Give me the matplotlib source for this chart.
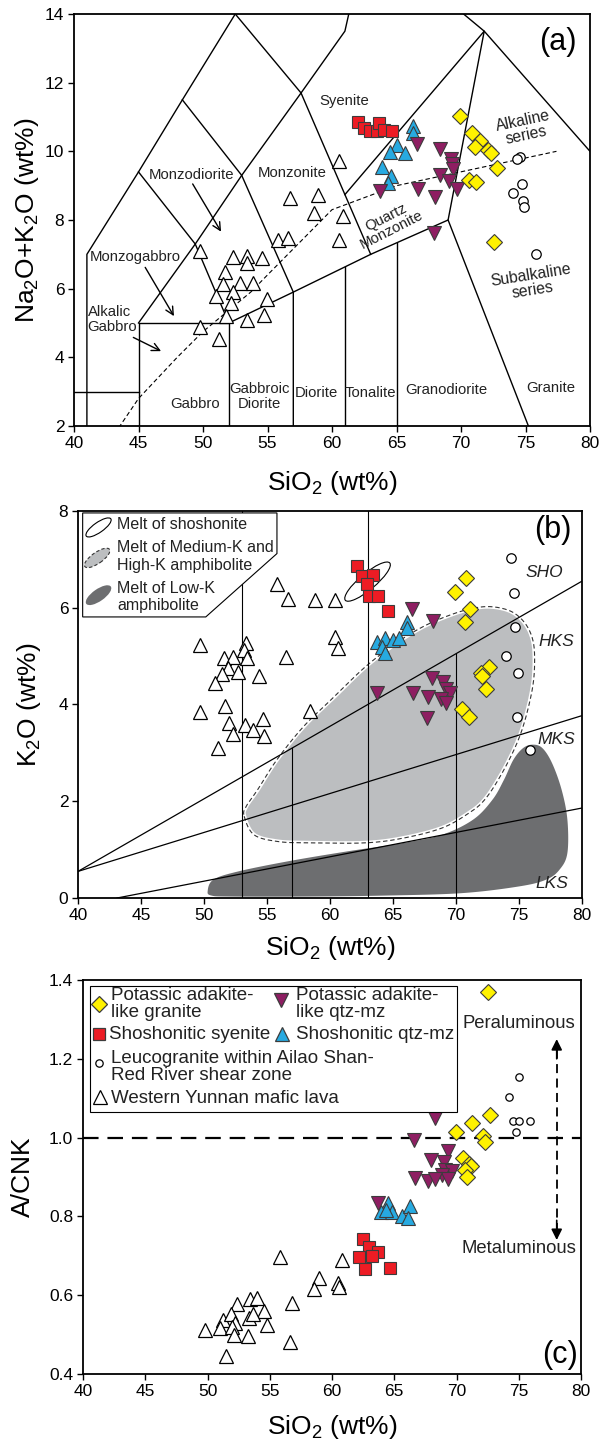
import numpy as np
import matplotlib
matplotlib.use("Agg")
import matplotlib.pyplot as plt
from matplotlib.patches import Polygon, Rectangle, Ellipse
from matplotlib.transforms import ScaledTranslation

plt.rcParams['font.family'] = ['Liberation Sans', 'DejaVu Sans']
plt.rcParams['mathtext.default'] = 'regular'

# ---------------- data ----------------
# Panel (a): TAS
a_tri_x = [49.77, 52.35, 53.43, 53.39, 54.55, 51.71, 52.87, 53.9, 51.53, 51.0, 52.35, 52.15, 54.94,
           51.78, 53.39, 54.73, 49.77, 51.26, 55.84, 56.61, 60.57, 56.74, 58.94, 58.6, 60.83, 60.57]
a_tri_y = [7.09, 6.92, 6.94, 6.76, 6.89, 6.50, 6.16, 6.16, 6.14, 5.79, 5.89, 5.58, 5.70,
           5.19, 5.10, 5.24, 4.88, 4.53, 7.43, 7.48, 9.71, 8.64, 8.74, 8.20, 8.12, 7.43]
a_sq_x = [62.04, 62.48, 62.95, 63.51, 63.67, 64.05, 64.63]
a_sq_y = [10.84, 10.68, 10.58, 10.58, 10.83, 10.61, 10.58]
a_blue_x = [66.25, 66.25, 65.06, 65.66, 64.5, 63.85, 64.55, 64.37]
a_blue_y = [10.75, 10.53, 10.19, 9.95, 9.97, 9.53, 9.27, 9.08]
a_pur_x = [66.6, 68.4, 69.2, 69.3, 69.4, 68.4, 69.1, 69.7, 66.7, 68.0, 63.7, 67.9]
a_pur_y = [10.2, 10.07, 9.77, 9.63, 9.5, 9.3, 9.15, 8.9, 8.9, 8.66, 8.85, 7.62]
a_yel_x = [69.95, 70.85, 71.5, 71.05, 72.1, 72.3, 72.8, 70.65, 71.2, 72.55]
a_yel_y = [11.02, 10.53, 10.29, 10.13, 10.05, 9.95, 9.52, 9.17, 9.12, 7.35]
a_cir_x = [74.6, 74.35, 74.0, 74.7, 74.8, 74.9, 75.85]
a_cir_y = [9.83, 9.78, 8.8, 9.06, 8.56, 8.38, 7.01]

# Panel (b): K2O vs SiO2
b_tri_x = [55.77, 56.69, 58.81, 60.4, 60.4, 60.66, 58.41, 49.68, 51.59, 52.28, 53.33, 53.17, 53.44, 51.93,
           51.4, 52.72, 50.87, 54.39, 56.51, 49.68, 51.67, 52.01, 53.25, 52.28, 53.86, 54.66, 54.76, 51.14]
b_tri_y = [6.50, 6.19, 6.16, 6.16, 5.39, 5.16, 3.87, 5.23, 4.97, 4.99, 5.27, 5.12, 4.97, 4.75,
           4.63, 4.68, 4.44, 4.59, 4.99, 3.85, 3.97, 3.62, 3.57, 3.40, 3.47, 3.71, 3.35, 3.11]
b_sq_x = [62.16, 62.5, 63.43, 62.9, 63.08, 63.82, 64.62]
b_sq_y = [6.86, 6.66, 6.67, 6.49, 6.24, 6.25, 5.93]
b_blue_x = [66.09, 66.09, 63.71, 64.37, 64.97, 65.5, 64.1, 64.37]
b_blue_y = [5.71, 5.59, 5.30, 5.37, 5.33, 5.37, 5.18, 5.06]
b_pur_x = [66.5, 68.2, 63.7, 66.6, 67.8, 68.1, 69.0, 69.2, 69.5, 68.8, 69.2, 67.7]
b_pur_y = [5.98, 5.72, 4.24, 4.24, 4.16, 4.55, 4.47, 4.33, 4.23, 4.12, 4.04, 3.72]
b_yel_x = [70.8, 69.9, 71.1, 70.7, 72.6, 72.0, 72.1, 72.35, 70.5, 71.0]
b_yel_y = [6.61, 6.33, 5.97, 5.71, 4.78, 4.66, 4.58, 4.33, 3.91, 3.75]
b_cir_x = [74.4, 74.6, 74.65, 74.0, 74.9, 74.85, 75.85]
b_cir_y = [7.03, 6.3, 5.6, 5.01, 4.66, 3.75, 3.05]

# Panel (c): A/CNK vs SiO2
c_tri_x = [55.82, 60.78, 58.98, 58.55, 60.51, 60.59, 56.76, 52.38, 53.4, 53.99, 54.53, 53.35, 53.67, 51.26,
           51.85, 52.2, 50.99, 49.78, 54.75, 51.93, 53.27, 52.12, 56.62, 51.47]
c_tri_y = [0.697, 0.690, 0.643, 0.616, 0.632, 0.622, 0.580, 0.578, 0.590, 0.593, 0.561, 0.542, 0.553, 0.538,
           0.553, 0.529, 0.517, 0.511, 0.525, 0.519, 0.497, 0.500, 0.480, 0.445]
c_sq_x = [62.48, 63.0, 63.71, 62.17, 63.19, 62.63, 64.64]
c_sq_y = [0.742, 0.723, 0.710, 0.698, 0.700, 0.666, 0.670]
c_blue_x = [64.53, 63.92, 64.8, 65.61, 66.28, 66.14, 64.34]
c_blue_y = [0.835, 0.810, 0.810, 0.801, 0.827, 0.796, 0.817]
c_pur_x = [68.29, 66.6, 69.28, 67.94, 68.96, 69.09, 69.63, 68.83, 69.28, 66.68, 67.75, 68.29, 63.73]
c_pur_y = [1.049, 0.994, 0.965, 0.944, 0.937, 0.918, 0.914, 0.906, 0.895, 0.897, 0.891, 0.894, 0.835]
c_yel_x = [72.5, 72.71, 71.24, 69.98, 72.12, 72.31, 70.51, 70.97, 71.16, 70.7, 70.84]
c_yel_y = [1.370, 1.058, 1.037, 1.013, 1.003, 0.990, 0.948, 0.933, 0.927, 0.918, 0.900]
c_cir_x = [74.18, 75.03, 74.54, 74.99, 75.87, 74.75]
c_cir_y = [1.102, 1.154, 1.043, 1.043, 1.041, 1.015]

# TAS (plutonic) field boundaries
tas_lines = [
    [(41, 2), (41, 7), (45, 9.4), (48.4, 11.5), (52.5, 14)],
    [(40, 3), (45, 3)],
    [(45, 2), (45, 5), (52, 5), (52, 2)],
    [(45, 5), (49.4, 7.3), (53, 9.3), (57.6, 11.7), (61, 13.5), (61.3, 14)],
    [(45, 9.4), (49.4, 7.3), (52, 5)],
    [(48.4, 11.5), (53, 9.3), (57, 5.9), (57, 2)],
    [(52.5, 14), (57.6, 11.7), (63, 7)],
    [(52, 5), (57, 5.9), (63, 7), (69, 8), (75.225, 2)],
    [(61, 2), (61, 6.63)],
    [(65, 2), (65, 7.33)],
    [(61, 8.74), (71.8, 13.5), (80, 10)],
    [(69, 8), (71.8, 13.5), (70.2, 14)],
]
ib_x = [39.2, 40, 43.2, 45, 48, 50, 53.7, 55, 60, 65, 77.4]
ib_y = [0, 0.4, 1.8, 2.8, 4.0, 4.75, 5.9, 6.4, 8.3, 9.0, 10.0]

# K2O-SiO2 series boundaries
sho_line = [(40, 0.55), (80, 6.55)]
hks_line = [(40, 0.55), (80, 3.77)]
lks_line = [(43.1, 0.0), (80, 1.86)]
b_vlines = [53, 57, 63, 70]

amph_mhk_x = [53.19, 53.95, 55.79, 58.23, 62.81, 65.86, 68.92, 71.05, 72.27, 73.5, 74.72, 75.48, 76.09,
              76.24, 76.09, 75.48, 74.41, 72.89, 71.36, 69.53, 67.39, 65.25, 62.81, 60.37, 57.92,
              55.79, 54.26, 53.34]
amph_mhk_y = [1.69, 1.31, 1.17, 1.14, 1.14, 1.24, 1.45, 1.76, 2.03, 2.51, 3.13, 3.68, 4.37,
              4.92, 5.34, 5.68, 5.92, 6.02, 5.99, 5.85, 5.61, 5.27, 4.78, 4.17, 3.55,
              2.86, 2.24, 1.89]
amph_lk_x = [50.29, 50.75, 52.73, 56.7, 61.28, 65.86, 68.92, 71.36, 72.89, 73.8, 74.56, 75.33, 76.09,
             76.85, 77.62, 78.38, 78.84, 78.84, 78.23, 77.16, 75.02, 70.44, 64.34, 58.23, 52.12, 50.6]
amph_lk_y = [0.14, 0.38, 0.55, 0.76, 0.96, 1.14, 1.31, 1.62, 2.03, 2.44, 2.86, 3.10, 3.17,
             3.10, 2.79, 2.24, 1.62, 0.93, 0.59, 0.38, 0.24, 0.10, 0.05, 0.03, 0.03, 0.05]

# ---------------- styles ----------------
C_YEL, C_RED, C_BLUE, C_PUR = '#FFF200', '#ED1C24', '#27AAE1', '#8E1E62'
EDGE = '#3c3c3c'
MS_SQ, MS_TRI, MS_D, MS_O = 9, 10, 8.6, 6.8


def catmull_closed(xs, ys, n=16):
    P = np.column_stack([xs, ys])
    N = len(P)
    out = []
    for i in range(N):
        p0, p1, p2, p3 = P[i - 1], P[i], P[(i + 1) % N], P[(i + 2) % N]
        for t in np.linspace(0, 1, n, endpoint=False):
            t2, t3 = t * t, t * t * t
            out.append(0.5 * ((2 * p1) + (-p0 + p2) * t + (2 * p0 - 5 * p1 + 4 * p2 - p3) * t2
                              + (-p0 + 3 * p1 - 3 * p2 + p3) * t3))
    out.append(out[0])
    return np.array(out)


def style_axes(ax, xlim, ylim, yticks):
    ax.set_xlim(*xlim)
    ax.set_ylim(*ylim)
    ax.set_xticks(np.arange(40, 81, 5))
    ax.set_yticks(yticks)
    ax.tick_params(direction='out', length=4, width=1.0, labelsize=12.5, pad=3)
    for s in ax.spines.values():
        s.set_linewidth(1.3)


def scatter_groups(ax, groups, cir_ms=MS_O):
    tri, sq, blue, pur, yel, cir = groups
    ax.plot(*tri, ls='none', marker='^', ms=MS_TRI, mfc='white', mec='black', mew=0.9, zorder=4)
    ax.plot(*cir, ls='none', marker='o', ms=cir_ms, mfc='white', mec='black', mew=0.9, zorder=4)
    ax.plot(*sq, ls='none', marker='s', ms=MS_SQ, mfc=C_RED, mec=EDGE, mew=0.8, zorder=4)
    ax.plot(*blue, ls='none', marker='^', ms=MS_TRI, mfc=C_BLUE, mec=EDGE, mew=0.8, zorder=4)
    ax.plot(*pur, ls='none', marker='v', ms=MS_TRI, mfc=C_PUR, mec=EDGE, mew=0.8, zorder=4)
    ax.plot(*yel, ls='none', marker='D', ms=MS_D, mfc=C_YEL, mec=EDGE, mew=0.8, zorder=4)


fig = plt.figure(figsize=(6.01, 14.42), dpi=100)
W, H = 601, 1442
ax_a = fig.add_axes([74 / W, 1 - 426 / H, 516 / W, 412 / H])
ax_b = fig.add_axes([78 / W, 1 - 898 / H, 504 / W, 387 / H])
ax_c = fig.add_axes([83 / W, 1 - 1374 / H, 498 / W, 394 / H])

# ---------------- panel (a) ----------------
ax = ax_a
style_axes(ax, (40, 80), (2, 14), np.arange(2, 15, 2))
for seg in tas_lines:
    xs, ys = zip(*seg)
    ax.plot(xs, ys, color='black', lw=1.0, zorder=2, clip_on=True)
ax.plot(ib_x, ib_y, color='black', lw=0.8, ls=(0, (4, 2.5)), zorder=2)

fs_f = 10.7
for txt, x, y in [('Syenite', 60.94, 11.48), ('Monzonite', 56.92, 9.36), ('Monzodiorite', 49.1, 9.3),
                  ('Monzogabbro', 44.75, 6.93), ('Gabbro', 49.38, 2.64), ('Diorite', 58.76, 2.95),
                  ('Tonalite', 63.0, 2.95), ('Granodiorite', 68.89, 3.05), ('Granite', 76.93, 3.12)]:
    ax.text(x, y, txt, fontsize=fs_f, ha='center', va='center', color='#222222', zorder=3)
ax.text(41.05, 5.1, 'Alkalic\nGabbro', fontsize=fs_f, ha='left', va='center', color='#222222',
        linespacing=1.05)
ax.text(54.4, 2.86, 'Gabbroic\nDiorite', fontsize=fs_f, ha='center', va='center', color='#222222',
        linespacing=1.05)
ax.text(64.4, 7.9, 'Quartz\nMonzonite', fontsize=fs_f, ha='center', va='center', color='#222222',
        rotation=27, linespacing=1.0)
ax.text(74.9, 10.68, 'Alkaline\nseries', fontsize=11.3, ha='center', va='center', color='#222222',
        rotation=12, linespacing=1.0)
ax.text(75.5, 6.18, 'Subalkaline\nseries', fontsize=11.3, ha='center', va='center', color='#222222',
        rotation=9, linespacing=1.0)
ax.text(77.5, 13.17, '(a)', fontsize=22, ha='center', va='center')
for (x0, y0), (x1, y1) in [((49.2, 9.05), (51.4, 7.66)), ((45.52, 6.62), (47.75, 5.2)),
                           ((44.6, 4.58), (46.75, 4.18))]:
    ax.annotate('', xy=(x1, y1), xytext=(x0, y0),
                arrowprops=dict(arrowstyle='->', color='black', lw=1.0, mutation_scale=14,
                                shrinkA=0, shrinkB=0), zorder=3)
scatter_groups(ax, [(a_tri_x, a_tri_y), (a_sq_x, a_sq_y), (a_blue_x, a_blue_y), (a_pur_x, a_pur_y),
                    (a_yel_x, a_yel_y), (a_cir_x, a_cir_y)])
ax.set_xlabel('SiO$_2$ (wt%)', fontsize=19, labelpad=13)
ax.set_ylabel('Na$_2$O+K$_2$O (wt%)', fontsize=19, labelpad=3)

# ---------------- panel (b) ----------------
ax = ax_b
style_axes(ax, (40, 80), (0, 8), np.arange(0, 9, 2))
lk = catmull_closed(amph_lk_x, amph_lk_y)
ax.add_patch(Polygon(lk, closed=True, facecolor='#6D6E70', edgecolor='none', zorder=1))
mhk = catmull_closed(amph_mhk_x, amph_mhk_y)
ax.add_patch(Polygon(mhk, closed=True, facecolor='#BCBEC0', edgecolor='white', lw=3.0, zorder=1.2))
ax.plot(mhk[:, 0], mhk[:, 1], color='#333333', lw=0.8, ls=(0, (4, 2.5)), zorder=1.3)

for ln in (sho_line, hks_line, lks_line):
    xs, ys = zip(*ln)
    ax.plot(xs, ys, color='black', lw=0.9, zorder=2)
sho_x, sho_y = zip(*sho_line)
for xv in b_vlines:
    top = 8 if xv in (53, 63) else np.interp(xv, sho_x, sho_y)
    ax.plot([xv, xv], [0, top], color='black', lw=0.8, zorder=2)

ax.text(76.98, 6.72, 'SHO', fontsize=12.5, style='italic', ha='center', va='center', color='#222222')
ax.text(77.99, 5.30, 'HKS', fontsize=12.5, style='italic', ha='center', va='center', color='#222222')
ax.text(77.99, 3.28, 'MKS', fontsize=12.5, style='italic', ha='center', va='center', color='#222222')
ax.text(77.6, 0.30, 'LKS', fontsize=12.5, style='italic', ha='center', va='center', color='#222222')
ax.text(77.7, 7.6, '(b)', fontsize=22, ha='center', va='center')


def ell(ax, x, y, w, h, ang, **kw):
    tr = fig.dpi_scale_trans + ScaledTranslation(x, y, ax.transData)
    e = Ellipse((0, 0), w, h, angle=ang, transform=tr, **kw)
    ax.add_patch(e)


# melt of shoshonite ellipse
ell(ax, 62.98, 6.54, 0.58, 0.16, 40, facecolor='none', edgecolor='black', lw=0.8, zorder=3)

# legend box of (b)
box_b = [(40.37, 7.96), (55.79, 7.96), (55.79, 7.12), (50.14, 5.81), (40.37, 5.81)]
ax.add_patch(Polygon(box_b, closed=True, facecolor='white', edgecolor='black', lw=0.8, zorder=5))
ell(ax, 41.63, 7.66, 0.30, 0.10, 35, facecolor='white', edgecolor='black', lw=0.8, zorder=6)
ell(ax, 41.52, 7.03, 0.30, 0.11, 35, facecolor='#BCBEC0', edgecolor='#333333', lw=0.8,
    ls=(0, (3, 2)), zorder=6)
ell(ax, 41.63, 6.26, 0.30, 0.12, 35, facecolor='#6D6E70', edgecolor='none', zorder=6)
fs_l = 11.5
for txt, y in [('Melt of shoshonite', 7.73), ('Melt of Medium-K and', 7.24), ('High-K amphibolite', 6.88),
               ('Melt of Low-K', 6.40), ('amphibolite', 6.05)]:
    ax.text(43.12, y, txt, fontsize=fs_l, ha='left', va='center', color='#222222', zorder=6)

scatter_groups(ax, [(b_tri_x, b_tri_y), (b_sq_x, b_sq_y), (b_blue_x, b_blue_y), (b_pur_x, b_pur_y),
                    (b_yel_x, b_yel_y), (b_cir_x, b_cir_y)])
ax.set_xlabel('SiO$_2$ (wt%)', fontsize=19, labelpad=8)
ax.set_ylabel('K$_2$O (wt%)', fontsize=19, labelpad=11)

# ---------------- panel (c) ----------------
ax = ax_c
style_axes(ax, (40, 80), (0.4, 1.4), np.round(np.arange(0.4, 1.41, 0.2), 1))
ax.yaxis.set_major_formatter(matplotlib.ticker.FormatStrFormatter('%.1f'))
ax.axhline(1.0, color='black', lw=1.6, ls=(0, (7, 4)), zorder=2)
ax.plot([78.05, 78.05], [0.76, 1.23], color='black', lw=1.3, ls=(0, (5, 3)), zorder=2)
for y0, y1 in [(1.20, 1.25), (0.79, 0.74)]:
    ax.annotate('', xy=(78.05, y1), xytext=(78.05, y0),
                arrowprops=dict(arrowstyle='-|>', color='black', lw=1.2, mutation_scale=16,
                                shrinkA=0, shrinkB=0))
ax.text(75.0, 1.289, 'Peraluminous', fontsize=13.3, ha='center', va='center', color='#222222')
ax.text(75.0, 0.719, 'Metaluminous', fontsize=13.3, ha='center', va='center', color='#222222')
ax.text(78.3, 0.449, '(c)', fontsize=22, ha='center', va='center')

scatter_groups(ax, [(c_tri_x, c_tri_y), (c_sq_x, c_sq_y), (c_blue_x, c_blue_y), (c_pur_x, c_pur_y),
                    (c_yel_x, c_yel_y), (c_cir_x, c_cir_y)], cir_ms=5.3)

# legend box of (c)
ax.add_patch(Rectangle((40.59, 1.065), 70.03 - 40.59, 1.386 - 1.065, facecolor='white',
                       edgecolor='black', lw=0.8, zorder=5))
fs_c = 13.5
leg_items = [
    ('D', C_YEL, EDGE, MS_D, 41.3, 1.339, 42.22, 'Potassic adakite-\nlike granite', 1.339),
    ('v', C_PUR, EDGE, MS_TRI, 55.9, 1.348, 57.14, 'Potassic adakite-\nlike qtz-mz', 1.339),
    ('s', C_RED, EDGE, MS_SQ, 41.3, 1.262, 42.1, 'Shoshonitic syenite', 1.262),
    ('^', C_BLUE, EDGE, MS_TRI, 56.0, 1.262, 57.14, 'Shoshonitic qtz-mz', 1.262),
    ('o', 'white', 'black', 5.3, 41.3, 1.189, 42.22, 'Leucogranite within Ailao Shan-\nRed River shear zone', 1.179),
    ('^', 'white', 'black', MS_TRI, 41.36, 1.103, 42.22, 'Western Yunnan mafic lava', 1.100),
]
for mk, fc, ec, ms, mx, my, tx, txt, ty in leg_items:
    ax.plot([mx], [my], ls='none', marker=mk, ms=ms, mfc=fc, mec=ec, mew=0.9, zorder=6)
    ax.text(tx, ty, txt, fontsize=fs_c, ha='left', va='center', color='#222222', zorder=6,
            linespacing=1.0)
ax.set_xlabel('SiO$_2$ (wt%)', fontsize=19, labelpad=10)
ax.set_ylabel('A/CNK', fontsize=19, labelpad=10)

fig.savefig('out.png', dpi=100)
